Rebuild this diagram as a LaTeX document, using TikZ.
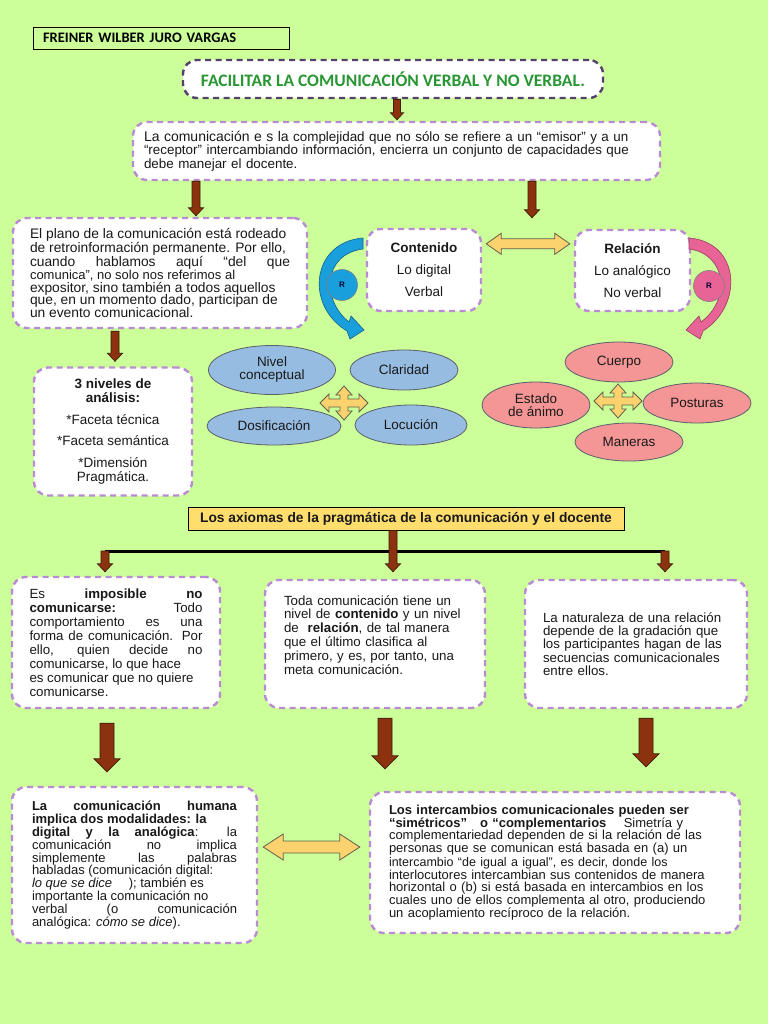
\documentclass[tikz,border=0pt]{standalone}
\usepackage{fontspec}
\setmainfont{Liberation Sans}
\newfontfamily\calfont{Carlito}
\usetikzlibrary{shapes.geometric,calc}
\definecolor{bg}{RGB}{204,255,153}
\definecolor{dpurple}{RGB}{185,140,210}
\definecolor{tpurple}{RGB}{85,65,105}
\definecolor{abrown}{RGB}{140,50,15}
\definecolor{aedge}{RGB}{60,30,10}
\definecolor{ayellow}{RGB}{252,210,110}
\definecolor{yedge}{RGB}{95,95,75}
\definecolor{eblue}{RGB}{150,188,225}
\definecolor{epink}{RGB}{245,150,150}
\definecolor{egray}{RGB}{90,95,105}
\definecolor{titlegreen}{RGB}{40,150,50}
\definecolor{rblue}{RGB}{25,160,220}
\definecolor{rblueedge}{RGB}{20,95,140}
\definecolor{rpink}{RGB}{232,100,150}
\definecolor{rpinkedge}{RGB}{150,60,95}
\definecolor{axyellow}{RGB}{255,222,110}
\definecolor{txtc}{RGB}{25,25,25}
\newcommand\fs[2]{\fontsize{#1}{#2}\selectfont}
% vertical block arrow: x from #1, from y of #1 down to y of #2
\newcommand\downblock[5]{%
  \draw[barrow] let \p1=(#1), \p2=(#2) in
    (\x1-#3,\y1) -- (\x1+#3,\y1) -- (\x1+#3,\y2+#5) -- (\x1+#4,\y2+#5) --
    (\x1,\y2) -- (\x1-#4,\y2+#5) -- (\x1-#3,\y2+#5) -- cycle;}
% horizontal double block arrow between x of #1 and x of #2, at y of #1
\newcommand\dblharrow[5]{%
  \draw[yarrow] let \p1=(#1), \p2=(#2) in
    (\x1,\y1) -- (\x1+#5,\y1+#4) -- (\x1+#5,\y1+#3) -- (\x2-#5,\y1+#3) --
    (\x2-#5,\y1+#4) -- (\x2,\y1) -- (\x2-#5,\y1-#4) -- (\x2-#5,\y1-#3) --
    (\x1+#5,\y1-#3) -- (\x1+#5,\y1-#4) -- cycle;}
\begin{document}
\begin{tikzpicture}[x=1pt,y=-1pt,
  dbox/.style={draw=dpurple, fill=white, line width=2.4pt, dash pattern=on 6pt off 4.5pt,
    rounded corners=14pt, inner sep=0pt, text=txtc},
  tbox/.style={dbox, draw=tpurple},
  barrow/.style={draw=aedge, fill=abrown, line width=0.7pt},
  yarrow/.style={draw=yedge, fill=ayellow, line width=0.8pt},
  bell/.style={ellipse, draw=egray, fill=eblue, line width=0.8pt, inner sep=0pt,
    font=\fs{13.5}{15}, align=center, text=txtc},
  pell/.style={bell, fill=epink},
  rcirc/.style={circle, minimum size=31pt, inner sep=0pt, line width=0.6pt,
    font=\bfseries\fs{8}{9}, text=black!80!blue},
  cross4/.pic={\draw[yarrow] (24,0) -- (15,-9) -- (15,-4) -- (4,-4) -- (4,-8) -- (8,-8) --
    (0,-17) -- (-8,-8) -- (-4,-8) -- (-4,-4) -- (-15,-4) -- (-15,-9) -- (-24,0) --
    (-15,9) -- (-15,4) -- (-4,4) -- (-4,8) -- (-8,8) -- (0,17) -- (8,8) -- (4,8) --
    (4,4) -- (15,4) -- (15,9) -- cycle;}
]
\fill[bg] (0,0) rectangle (768,1024);
\useasboundingbox (0,0) rectangle (768,1024);

% header
\node[draw=black, line width=0.8pt, minimum width=256pt, minimum height=22pt, inner sep=0pt,
  text width=236pt, align=left, font=\calfont\bfseries\fs{14.5}{15}] (name) at (161,38)
  {FREINER WILBER JURO VARGAS};
\node[tbox, minimum width=420pt, minimum height=38pt, text=titlegreen,
  font=\calfont\bfseries\fs{17.5}{18}] (title) at (393,79)
  {FACILITAR LA COMUNICACIÓN VERBAL Y NO VERBAL.};

\node[dbox, minimum width=527pt, minimum height=58pt, text width=505pt, align=left,
  font=\fs{13.4}{13.6}] (intro) at (396.5,151)
  {\mbox{{\fs{14}{13.6}La comunicación e s la} complejidad que no sólo se refiere a un “emisor” y a un}\\
   \mbox{“receptor” intercambiando información, encierra un conjunto de capacidades que}\\
   debe manejar el docente.};

\node[dbox, minimum width=294pt, minimum height=110pt, text width=260pt, align=justify,
  font=\fs{13.8}{12.9}] (plano) at (160,273)
  {El plano de la comunicación está rodeado\\
   de retroinformación permanente. Por ello,\\
   cuando hablamos aquí “del que\linebreak
   {\fs{13}{12.9}comunica”, no solo nos referimos al}\\
   expositor, sino también a todos aquellos\\
   que, en un momento dado, participan de\\
   un evento comunicacional.};

\node[dbox, minimum width=114pt, minimum height=82pt, align=center, font=\fs{13.5}{22}]
  (cont) at (424,270) {\textbf{Contenido}\\Lo digital\\Verbal};
\node[dbox, minimum width=115pt, minimum height=81pt, align=center, font=\fs{13.5}{22}]
  (rel) at (632.5,270.5) {\textbf{Relación}\\Lo analógico\\No verbal};

\node[dbox, minimum width=158pt, minimum height=128pt, align=center, font=\fs{13.5}{14.5}]
  (niv) at (113,431.5)
  {\textbf{3 niveles de}\\\textbf{análisis:}\\[7pt]*Faceta técnica\\[7pt]*Faceta semántica\\[7pt]*Dimensión\\Pragmática.};

% curved arrows with R
\draw[draw=rblueedge, fill=rblue, line width=0.6pt] (363,238) .. controls (312,242) and (304,305) .. (347,331)
  -- (350,339) -- (364,330) -- (351,316) -- (349,322) .. controls (321,300) and (323,254) .. (363,249) -- cycle;
\node[rcirc, draw=gray, fill=rblue] (rb) at (342,285) {R};
\draw[draw=rpinkedge, fill=rpink, line width=0.6pt] (689,238) .. controls (740,242) and (744,305) .. (703,331)
  -- (700,339) -- (686,330) -- (699,316) -- (701,322) .. controls (731,300) and (727,254) .. (689,249) -- cycle;
\node[rcirc, draw=gray, fill=rpink] (rp) at (709,286) {R};

% ellipses
\node[bell, minimum width=127pt, minimum height=49pt] (nc) at (272,370) {Nivel\\[-2pt]conceptual};
\node[bell, minimum width=108pt, minimum height=40pt] (cla) at (404,370) {Claridad};
\node[bell, minimum width=134pt, minimum height=38pt] (dos) at (274,426) {Dosificación};
\node[bell, minimum width=112pt, minimum height=40pt] (loc) at (411,425) {Locución};
\pic at (344,403) {cross4};

\node[pell, minimum width=108pt, minimum height=40pt] (cue) at (619,362) {Cuerpo};
\node[pell, minimum width=108pt, minimum height=46pt] (est) at (536,405) {Estado\\[-2pt]de ánimo};
\node[pell, minimum width=108pt, minimum height=40pt] (pos) at (697,403) {Posturas};
\node[pell, minimum width=108pt, minimum height=38pt] (man) at (629,442) {Maneras};
\pic at (618,401) {cross4};

% axioms
\node[draw=black, fill=axyellow, line width=0.8pt, minimum width=436pt, minimum height=23pt,
  inner sep=0pt, font=\bfseries\fs{13.8}{14}, text=txtc] (ax) at (406,518.5)
  {Los axiomas de la pragmática de la comunicación y el docente};

\node[dbox, minimum width=208pt, minimum height=131pt, text width=173pt, align=justify,
  font=\fs{13.3}{14}] (axa) at (116,642.5)
  {Es \textbf{imposible} \textbf{no}\linebreak
   \textbf{comunicarse:} Todo\linebreak
   comportamiento es una\linebreak
   forma de comunicación. Por\linebreak
   ello, quien decide no\linebreak
   comunicarse, lo que hace\\
   es comunicar que no quiere\\
   comunicarse.};
\node[dbox, minimum width=220pt, minimum height=128pt, text width=182pt, align=left,
  font=\fs{13.3}{13.8}] (axb) at (375,644)
  {Toda comunicación tiene un\\
   nivel de \textbf{contenido} y un nivel\\
   de \ \textbf{relación}, de tal manera\\
   que el último clasifica al\\
   primero, y es, por tanto, una\\
   meta comunicación.\\[5pt]\mbox{}};
\node[dbox, minimum width=222pt, minimum height=128pt, text width=186pt, align=left,
  font=\fs{13.3}{13.3}] (axc) at (636,644)
  {La naturaleza de una relación\\
   depende de la gradación que\\
   los participantes hagan de las\\
   secuencias comunicacionales\\
   entre ellos.};

\coordinate (jl) at (105,551);
\coordinate (jr) at (665,551);
\draw[black, line width=3pt] (jl) -- (jr);
\downblock{[xshift=-13pt]ax.south}{[yshift=7pt]axb.north}{4pt}{7.5pt}{8pt}
\downblock{jl}{[yshift=4pt]axa.north}{4pt}{7.5pt}{8pt}
\downblock{jr}{[yshift=7pt]axc.north}{4pt}{7.5pt}{8pt}

\node[dbox, minimum width=245pt, minimum height=156pt, text width=205pt, align=justify,
  font=\fs{13}{12.8}] (mod) at (134.5,865)
  {\textbf{La comunicación humana}\linebreak
   \textbf{implica dos modalidades: la}\\
   \textbf{digital y la analógica}: la\linebreak
   comunicación no implica\linebreak
   simplemente las palabras\linebreak
   \mbox{habladas (comunicación digital:}\\
   \textit{lo que se dice}\quad\ ); también es\\
   importante la comunicación no\\
   verbal (o comunicación\linebreak
   analógica: \textit{cómo se dice}).};
\node[dbox, minimum width=370pt, minimum height=141pt, text width=332pt, align=left,
  font=\fs{13}{12.6}] (sim) at (555,862.5)
  {\textbf{Los intercambios comunicacionales pueden ser}\\
   \textbf{“simétricos” \ \ o “complementarios}\quad\ Simetría y\\
   complementariedad dependen de si la relación de las\\
   personas que se comunican está basada en (a) un\\[1.5pt]
   {\fs{12.5}{12.6}intercambio “de igual a igual”, es decir, donde los}\\
   interlocutores intercambian sus contenidos de manera\\
   horizontal o (b) si está basada en intercambios en los\\
   cuales uno de ellos complementa al otro, produciendo\\
   un acoplamiento recíproco de la relación.};

% brown connectors
\downblock{[xshift=4pt]title.south}{[yshift=1pt]intro.north}{3.5pt}{6.5pt}{7pt}
\downblock{[xshift=-200.5pt]intro.south}{[yshift=1pt]plano.north}{4pt}{7.5pt}{8pt}
\downblock{[xshift=135.5pt]intro.south}{[yshift=10pt]cont.north}{4pt}{7.5pt}{8pt}
\downblock{[xshift=-45pt,yshift=-2pt]plano.south}{[yshift=5pt]niv.north}{4pt}{7.5pt}{8pt}
\downblock{[xshift=-9pt,yshift=-14pt]axa.south}{[yshift=14pt]mod.north}{7pt}{13pt}{13pt}
\downblock{[xshift=10pt,yshift=-9pt]axb.south}{[yshift=22pt]sim.north}{7pt}{13pt}{13pt}
\downblock{[xshift=10pt,yshift=-9pt]axc.south}{[yshift=24pt]sim.north}{7pt}{13pt}{13pt}

% yellow double arrows
\dblharrow{[xshift=4pt,yshift=-16pt]cont.north east}{[xshift=-4pt]rel.west}{5pt}{10.5pt}{15pt}
\dblharrow{[xshift=5pt,yshift=18pt]mod.east}{[xshift=-9pt]sim.west}{6pt}{13pt}{20pt}
\end{tikzpicture}
\end{document}
